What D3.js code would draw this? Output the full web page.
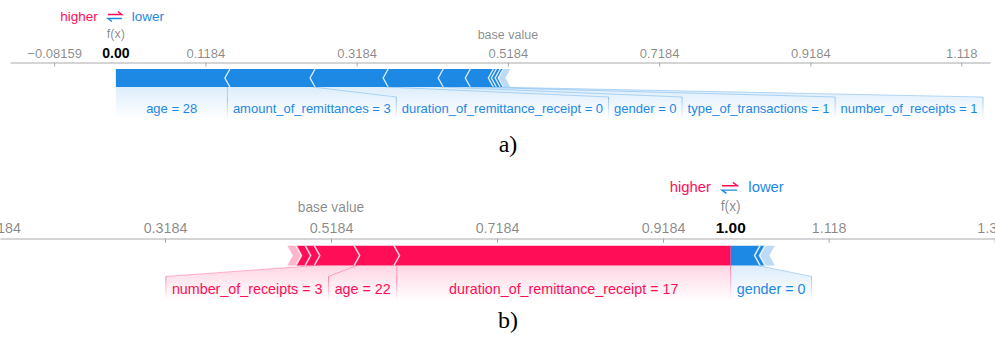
<!DOCTYPE html>
<html lang="en">
<head>
<meta charset="UTF-8">
<title>Force plots</title>
<style>
  body { margin: 0; background: #fff; }
  svg { display: block; font-family: "Liberation Sans", Arial, sans-serif; }
</style>
</head>
<body>
<script src="https://d3js.org/d3.v7.min.js"></script>
<script>

  // ---- panel a) data ----
  var aBase = 0.5184, aOut = 0.00;
  var aFeatures = ["age", "amount_of_remittances", "duration_of_remittance_receipt", "gender", "type_of_transactions", "number_of_receipts"];
  var aFeatureValues = [28, 3, 0, 0, 1, 1];
  var aEffects = [-0.1475, -0.1126, -0.0967, -0.0728, -0.0358, -0.0305];
  var aSmallEffects = [-0.004, -0.005, -0.004, -0.0095];   // unlabelled, last one faded
  var aTicks = [-0.08159, 0.1184, 0.3184, 0.5184, 0.7184, 0.9184, 1.118];
  var aTickLabels = ["\u22120.08159", "0.1184", "0.3184", "0.5184", "0.7184", "0.9184", "1.118"];

  // ---- panel b) data ----
  var bBase = 0.5184, bOut = 1.00;
  var bFeatures = ["duration_of_remittance_receipt", "age", "number_of_receipts", "gender"];
  var bFeatureValues = [17, 22, 3, 0];
  var bEffects = [0.4024, 0.048, 0.048, -0.032];
  var bSmallEffects = [0.011, 0.011, 0.0105, -0.006, -0.0118];
  var bTicks = [0.1184, 0.3184, 0.5184, 0.7184, 0.9184, 1.118, 1.318];
  var bTickLabels = ["0.1184", "0.3184", "0.5184", "0.7184", "0.9184", "1.118", "1.318"];

  var red = "#ff0d57", blue = "#1e88e5";

  var svg = d3.select("body").append("svg")
      .attr("width", 995)
      .attr("height", 347);

  // gradients for label backings and dividers
  var defs = svg.append("defs");
  [["bgR", red, 0.17], ["bgB", blue, 0.15], ["dvR", red, 0.5], ["dvB", blue, 0.45]].forEach(function(gd) {
    var lg = defs.append("linearGradient").attr("id", gd[0])
        .attr("x1", 0).attr("y1", 0).attr("x2", 0).attr("y2", 1);
    lg.append("stop").attr("offset", "0%").attr("stop-color", gd[1]).attr("stop-opacity", gd[2]);
    lg.append("stop").attr("offset", "100%").attr("stop-color", gd[1]).attr("stop-opacity", 0);
  });

  function forcePlot(p) {
    var k = p.k;
    var g = svg.append("g");
    var x = d3.scaleLinear().domain(p.domain).range(p.range);
    var ay = p.axisY;
    var top = ay + 6.5 * k, bot = top + 18 * k, mid = (top + bot) / 2, h = 2.5 * k;
    var linkY = bot + 10 * k, backY = bot + 32 * k, textY = bot + 26 * k;
    var fx = x(p.out);

    // axis with labels above and small ticks below
    var axis = g.append("g")
        .attr("transform", "translate(0," + ay + ")")
        .call(d3.axisTop(x)
            .tickValues(p.ticks)
            .tickFormat(function(d, i) { return p.tickLabels[i]; })
            .tickSizeInner(-4 * k)
            .tickSizeOuter(0)
            .tickPadding(5 * k));
    axis.select(".domain").attr("stroke", "#aaa");
    axis.selectAll(".tick line").attr("stroke", "#aaa");
    axis.selectAll(".tick text")
        .attr("font-family", "Liberation Sans, Arial, sans-serif")
        .attr("font-size", 13 * k)
        .attr("fill", "#000").attr("fill-opacity", 0.48);

    // build segments from f(x) outwards on each side
    var segs = [];
    var cumPos = 0, cumNeg = 0;
    var all = p.effects.map(function(e, i) {
      return {eff: e, name: p.features[i], val: p.values[i], faded: false};
    });
    var posSmall = p.small.filter(function(e) { return e > 0; });
    var negSmall = p.small.filter(function(e) { return e < 0; });
    posSmall.forEach(function(e, i) { all.push({eff: e, name: null, faded: i === posSmall.length - 1}); });
    negSmall.forEach(function(e, i) { all.push({eff: e, name: null, faded: i === negSmall.length - 1}); });

    all.forEach(function(d) {
      if (d.eff > 0) {
        d.inner = x(p.out - cumPos);
        cumPos += d.eff;
        d.outer = x(p.out - cumPos);
      } else {
        d.inner = x(p.out + cumNeg);
        cumNeg += -d.eff;
        d.outer = x(p.out + cumNeg);
      }
      segs.push(d);
    });

    // chevron edge at boundary b
    function edge(b, pos, straight) {
      var s = straight ? 0 : (pos ? h : -h);
      return [[b - s, top], [b + s, mid], [b - s, bot]];
    }

    g.selectAll(".block")
        .data(segs)
        .enter().append("path")
        .attr("class", "block")
        .attr("d", function(d) {
          var pos = d.eff > 0;
          var ei = edge(d.inner, pos, Math.abs(d.inner - fx) < 0.01);
          var eo = edge(d.outer, pos, false);
          return "M" + ei[0] + "L" + eo[0] + "L" + eo[1] + "L" + eo[2] + "L" + ei[2] + "L" + ei[1] + "Z";
        })
        .attr("fill", function(d) { return d.eff > 0 ? red : blue; })
        .attr("fill-opacity", function(d) { return d.faded ? 0.3 : 1; });

    // white chevron dividers between blocks
    g.selectAll(".chev")
        .data(segs.filter(function(d) { return Math.abs(d.inner - fx) > 0.01; }))
        .enter().append("path")
        .attr("class", "chev")
        .attr("d", function(d) {
          var e = edge(d.inner, d.eff > 0, false);
          return "M" + e[0] + "L" + e[1] + "L" + e[2];
        })
        .attr("fill", "none")
        .attr("stroke", "#fff")
        .attr("stroke-width", 1.4 * k)
        .attr("stroke-opacity", 0.8);

    // labels
    var sep = 11 * k;
    [true, false].forEach(function(positive) {
      var labelled = segs.filter(function(d) { return d.name && (d.eff > 0) === positive; });
      var pos = fx;
      var prevSeg = fx;
      labelled.forEach(function(d) {
        var col = positive ? red : blue;
        var t = g.append("text")
            .attr("y", textY)
            .attr("text-anchor", "middle")
            .attr("font-size", 13 * k)
            .attr("fill", col)
            .text(d.name + " = " + d.val);
        var len = t.node().getComputedTextLength();
        var segW = Math.abs(d.outer - d.inner);
        var tw = Math.max(len, segW - sep) + sep;
        var r0 = pos, r1 = positive ? pos - tw : pos + tw;
        t.attr("x", (r0 + r1) / 2);

        g.insert("path", ":first-child")
            .attr("d", "M" + prevSeg + "," + bot + "L" + d.outer + "," + bot +
                "L" + r1 + "," + linkY + "L" + r1 + "," + backY +
                "L" + r0 + "," + backY + "L" + r0 + "," + linkY + "Z")
            .attr("fill", positive ? "url(#bgR)" : "url(#bgB)");

        g.append("line")
            .attr("x1", d.outer).attr("y1", bot)
            .attr("x2", r1).attr("y2", linkY)
            .attr("stroke", col).attr("stroke-opacity", 0.3).attr("stroke-width", 1);

        g.append("rect")
            .attr("x", r1 - 0.5).attr("y", linkY)
            .attr("width", 1).attr("height", backY - linkY)
            .attr("fill", positive ? "url(#dvR)" : "url(#dvB)");

        pos = r1;
        prevSeg = d.outer;
      });
    });

    if (p.joinDivider) {
      g.append("rect")
          .attr("x", fx - 0.5).attr("y", bot)
          .attr("width", 1).attr("height", backY - bot)
          .attr("fill", "url(#dvR)");
    }

    // header texts
    g.append("text")
        .attr("x", x(p.base)).attr("y", ay - 24 * k)
        .attr("text-anchor", "middle")
        .attr("font-size", 12.5 * k)
        .attr("fill", "#000").attr("fill-opacity", 0.48)
        .text("base value");

    g.append("rect")
        .attr("x", fx - 20 * k).attr("y", ay - 19 * k)
        .attr("width", 40 * k).attr("height", 16 * k)
        .attr("fill", "#fff");
    g.append("text")
        .attr("x", fx).attr("y", ay - 5 * k)
        .attr("text-anchor", "middle")
        .attr("font-size", 14 * k)
        .attr("font-weight", "bold")
        .attr("fill", "#000")
        .text(p.out.toFixed(2));

    g.append("text")
        .attr("x", fx).attr("y", ay - 25 * k)
        .attr("text-anchor", "middle")
        .attr("font-size", 12.5 * k)
        .attr("fill", "#000").attr("fill-opacity", 0.48)
        .text("f(x)");

    g.append("text")
        .attr("x", fx - 18 * k).attr("y", ay - 42 * k)
        .attr("text-anchor", "end")
        .attr("font-size", 13.5 * k)
        .attr("fill", red)
        .text("higher");
    g.append("text")
        .attr("x", fx + 16 * k).attr("y", ay - 42 * k)
        .attr("text-anchor", "start")
        .attr("font-size", 13.5 * k)
        .attr("fill", blue)
        .text("lower");

    // the small ⇄ arrows
    var ax0 = fx - 8 * k, ax1 = fx + 6 * k, ya = ay - 48 * k, yb = ay - 44 * k;
    g.append("path")
        .attr("d", "M" + ax0 + "," + ya + "H" + ax1 + "L" + (ax1 - 4 * k) + "," + (ya - 3 * k))
        .attr("fill", "none").attr("stroke", red).attr("stroke-width", 1.3 * k);
    g.append("path")
        .attr("d", "M" + ax1 + "," + yb + "H" + ax0 + "L" + (ax0 + 4 * k) + "," + (yb + 3 * k))
        .attr("fill", "none").attr("stroke", blue).attr("stroke-width", 1.3 * k);

    // caption
    svg.append("text")
        .attr("x", p.caption[1]).attr("y", p.caption[2])
        .attr("text-anchor", "middle")
        .attr("font-family", "Liberation Serif, Times New Roman, serif")
        .attr("font-size", 24)
        .attr("fill", "#000")
        .text(p.caption[0]);
  }

  forcePlot({
    k: 1, axisY: 62.5,
    domain: [-0.14, 1.156], range: [10, 990],
    base: aBase, out: aOut,
    features: aFeatures, values: aFeatureValues, effects: aEffects, small: aSmallEffects,
    ticks: aTicks, tickLabels: aTickLabels,
    joinDivider: false,
    caption: ["a)", 508, 152]
  });

  forcePlot({
    k: 1.1, axisY: 238.5,
    domain: [0.1196, 1.3184], range: [0, 995],
    base: bBase, out: bOut,
    features: bFeatures, values: bFeatureValues, effects: bEffects, small: bSmallEffects,
    ticks: bTicks, tickLabels: bTickLabels,
    joinDivider: true,
    caption: ["b)", 508, 328]
  });

</script>
</body>
</html>
